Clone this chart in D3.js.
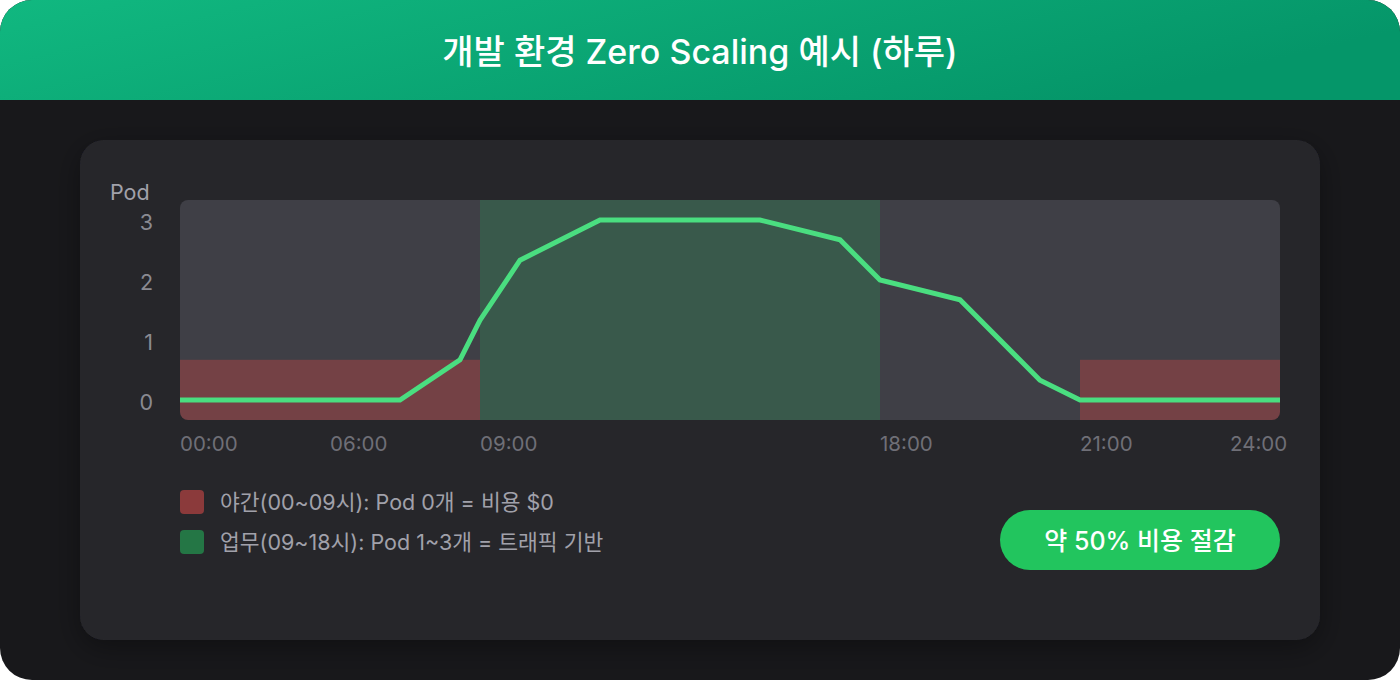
<!DOCTYPE html>
<html lang="ko">
<head>
<meta charset="utf-8">
<script src="https://cdn.jsdelivr.net/npm/d3@7"></script>
<style>
  html, body { margin: 0; padding: 0; background: #ffffff; }
  #frame {
    width: 1400px; height: 680px; position: relative; overflow: hidden;
    border-radius: 32px; background: #18181b;
    font-family: Inter, "Noto Sans CJK KR", sans-serif;
  }
  #chart { position: absolute; left: 0; top: 0; }
</style>
</head>
<body>
<div id="frame"><svg id="chart" width="1400" height="680"></svg></div>
<script>
// — Data ————————————————————————————————————————————————————————
const title = '개발 환경 Zero Scaling 예시 (하루)';
const yLabel = 'Pod';

// pod count over the day (hour → pods)
const hours = [0, 6.6, 8.4, 9, 9.9, 11.7, 15.3, 17.1, 18, 19.2, 20.4, 21, 24];
const pods  = [0, 0, 0.67, 1.33, 2.33, 3, 3, 2.67, 2, 1.67, 0.33, 0, 0];

// hour breakpoints used by the (uneven) time axis
const hourBreaks = [0, 9, 18, 21, 24];

const yTicks = [0, 1, 2, 3];
const xTickLabels = ['00:00', '06:00', '09:00', '18:00', '21:00', '24:00'];
const xTickHours  = [0, 4.5, 9, 18, 21, 23.25];

// shaded periods
const nightBands = [[0, 9], [21, 24]];
const nightLevel = 0.67;
const workBand = [9, 18];

const legendLabels = ['야간(00~09시): Pod 0개 = 비용 $0', '업무(09~18시): Pod 1~3개 = 트래픽 기반'];
const badgeText = '약 50% 비용 절감';

// — Setup ———————————————————————————————————————————————————————
const svg = d3.select('#chart');
const defs = svg.append('defs');

const grad = defs.append('linearGradient').attr('id', 'hdr').attr('x1', '0').attr('x2', '1').attr('y1', '0').attr('y2', '0.3');
grad.append('stop').attr('offset', '0%').attr('stop-color', '#11b880');
grad.append('stop').attr('offset', '100%').attr('stop-color', '#059669');

const shadow = defs.append('filter').attr('id', 'shadow').attr('x', '-10%').attr('y', '-10%').attr('width', '120%').attr('height', '130%');
shadow.append('feDropShadow').attr('dx', 0).attr('dy', 8).attr('stdDeviation', 14)
  .attr('flood-color', '#000').attr('flood-opacity', 0.35);

// header
svg.append('rect').attr('x', 0).attr('y', 0).attr('width', 1400).attr('height', 100).attr('fill', 'url(#hdr)');
svg.append('text')
  .attr('x', 700).attr('y', 51)
  .attr('text-anchor', 'middle').attr('dominant-baseline', 'central')
  .attr('fill', '#ffffff').attr('font-size', 34).attr('font-weight', 500)
  .text(title);

// card
svg.append('rect')
  .attr('x', 80).attr('y', 140).attr('width', 1240).attr('height', 500).attr('rx', 24)
  .attr('fill', '#26262b').attr('filter', 'url(#shadow)');

// — Scales ——————————————————————————————————————————————————————
const plot = { left: 180, right: 1280, top: 200, bottom: 420 };
const x = d3.scaleLinear()
  .domain(hourBreaks)
  .range([180, 480, 880, 1080, 1280]);
const y = d3.scaleLinear()
  .domain([-1 / 3, 10 / 3])
  .range([plot.bottom, plot.top]);

defs.append('clipPath').attr('id', 'plotClip')
  .append('rect')
  .attr('x', plot.left).attr('y', plot.top)
  .attr('width', plot.right - plot.left).attr('height', plot.bottom - plot.top)
  .attr('rx', 8);

const area = svg.append('g').attr('clip-path', 'url(#plotClip)');

area.append('rect')
  .attr('x', plot.left).attr('y', plot.top)
  .attr('width', plot.right - plot.left).attr('height', plot.bottom - plot.top)
  .attr('fill', '#3f3f46');

area.append('rect')
  .attr('x', x(workBand[0])).attr('y', plot.top)
  .attr('width', x(workBand[1]) - x(workBand[0])).attr('height', plot.bottom - plot.top)
  .attr('fill', 'rgba(34,197,94,0.2)');

area.selectAll('.night')
  .data(nightBands)
  .join('rect')
  .attr('class', 'night')
  .attr('x', d => x(d[0]))
  .attr('y', y(nightLevel))
  .attr('width', d => x(d[1]) - x(d[0]))
  .attr('height', plot.bottom - y(nightLevel))
  .attr('fill', 'rgba(239,68,68,0.3)');

const line = d3.line()
  .x((d, i) => x(hours[i]))
  .y(d => y(d));

area.append('path')
  .datum(pods)
  .attr('d', line)
  .attr('fill', 'none')
  .attr('stroke', '#4ade80')
  .attr('stroke-width', 5)
  .attr('stroke-linejoin', 'miter');

// — Axes labels —————————————————————————————————————————————————
svg.append('text')
  .attr('x', 110).attr('y', 192)
  .attr('dominant-baseline', 'central')
  .attr('fill', '#a1a1aa').attr('font-size', 21.5)
  .text(yLabel);

svg.selectAll('.ytick')
  .data(yTicks)
  .join('text')
  .attr('class', 'ytick')
  .attr('x', 153).attr('y', d => y(d) + 2)
  .attr('text-anchor', 'end').attr('dominant-baseline', 'central')
  .attr('fill', '#8a8a92').attr('font-size', 21.5)
  .text(d => d);

svg.selectAll('.xtick')
  .data(xTickLabels)
  .join('text')
  .attr('class', 'xtick')
  .attr('x', (d, i) => x(xTickHours[i]))
  .attr('y', 443)
  .attr('dominant-baseline', 'central')
  .attr('fill', '#6f6f77').attr('font-size', 20.5)
  .text(d => d);

// — Legend ——————————————————————————————————————————————————————
const swatchColors = ['#8b3a3b', '#247645'];
const legend = svg.selectAll('.legend')
  .data(legendLabels)
  .join('g')
  .attr('class', 'legend')
  .attr('transform', (d, i) => `translate(180, ${490 + i * 40})`);

legend.append('rect')
  .attr('width', 24).attr('height', 24).attr('rx', 4)
  .attr('fill', (d, i) => swatchColors[i]);

legend.append('text')
  .attr('x', 40).attr('y', 12)
  .attr('dominant-baseline', 'central')
  .attr('fill', '#a1a1aa').attr('font-size', 21.5)
  .text(d => d);

// — Badge ———————————————————————————————————————————————————————
svg.append('rect')
  .attr('x', 1000).attr('y', 510).attr('width', 280).attr('height', 60).attr('rx', 30)
  .attr('fill', '#22c55e');
svg.append('text')
  .attr('x', 1140).attr('y', 541)
  .attr('text-anchor', 'middle').attr('dominant-baseline', 'central')
  .attr('fill', '#ffffff').attr('font-size', 25).attr('font-weight', 500)
  .text(badgeText);
</script>
</body>
</html>
